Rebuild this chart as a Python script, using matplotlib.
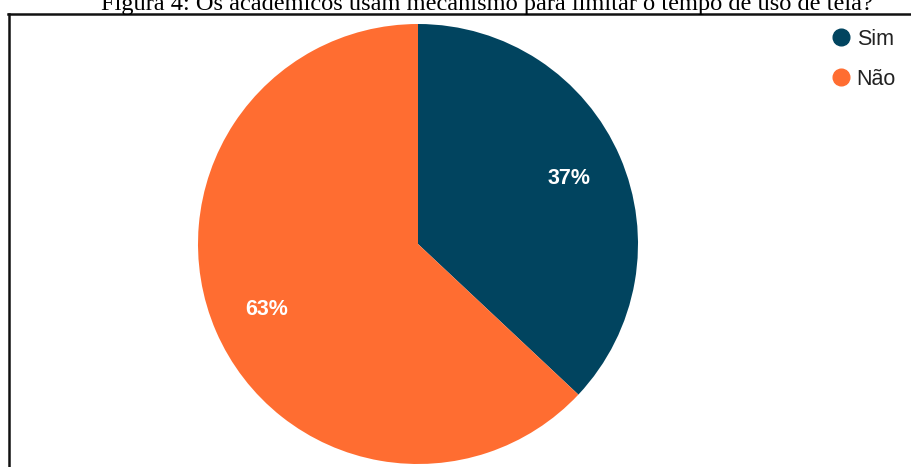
import matplotlib
matplotlib.use("Agg")
import matplotlib.pyplot as plt
from matplotlib.lines import Line2D

title = "Figura 4: Os acadêmicos usam mecanismo para limitar o tempo de uso de tela?"
categories = ["Sim", "Não"]
values = [37, 63]
colors = ["#01445F", "#FF6D31"]

W, H = 912, 467
fig = plt.figure(figsize=(W / 100, H / 100), dpi=100)

cx, cy, r = 418, 244, 220
ax = fig.add_axes([(cx - r) / W, (H - cy - r) / H, 2 * r / W, 2 * r / H])
wedges, texts, autotexts = ax.pie(
    values, colors=colors, startangle=90, counterclock=False,
    autopct=lambda p: f"{p:.0f}%", pctdistance=0.75, radius=1,
    wedgeprops=dict(linewidth=0),
    textprops=dict(color="white", fontsize=15.5, fontweight="bold", family="Liberation Sans"),
)
ax.set_xlim(-1, 1)
ax.set_ylim(-1, 1)
ax.set_aspect("equal")
ax.axis("off")

handles = [Line2D([], [], marker="o", linestyle="none", markersize=12,
                  markerfacecolor=c, markeredgecolor=c) for c in colors]
fig.legend(handles, categories, loc="upper left", bbox_to_anchor=(819 / W, 1 - 18 / H),
           frameon=False, prop=dict(family="Liberation Sans", size=15.5),
           handletextpad=0.25, labelspacing=0.88, handlelength=1.0, borderpad=0,
           labelcolor="#222222")

fig.text(487 / W, 1 - 10 / H, title, ha="center", va="baseline",
         fontsize=17.6, family="Liberation Serif", color="black")

fig.add_artist(Line2D([8 / W, 1], [1 - 13.5 / H, 1 - 13.5 / H], color="#111111", linewidth=1.8,
                      transform=fig.transFigure))
fig.add_artist(Line2D([9 / W, 9 / W], [1 - 13.5 / H, 0], color="#111111", linewidth=1.8,
                      transform=fig.transFigure))

fig.savefig("out.png", dpi=100)
